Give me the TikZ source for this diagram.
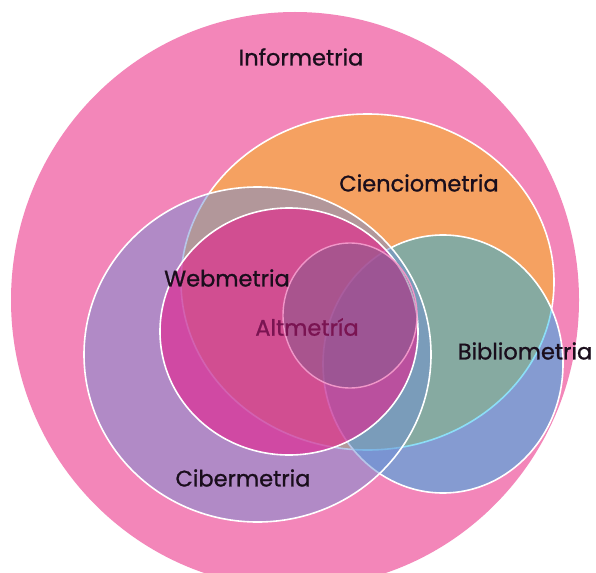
\documentclass[tikz,border=0pt]{standalone}
\usepackage{fontspec}
\setmainfont{Poppins}
\newfontfamily\labelfont{Poppins}[FakeBold=1.0]
\definecolor{infoPink}{RGB}{243,134,185}
\definecolor{cienOrange}{RGB}{245,161,97}
\definecolor{biblioBlue}{RGB}{0,182,239}
\definecolor{ciberViolet}{RGB}{112,143,212}
\definecolor{webMagenta}{RGB}{230,30,140}
\definecolor{altPlum}{RGB}{130,90,140}
\definecolor{altEdge}{RGB}{240,150,200}
\definecolor{labelInk}{RGB}{26,14,28}
\definecolor{altInk}{RGB}{122,20,82}
\begin{document}
\begin{tikzpicture}[x=1pt,y=-1pt,
  ring/.style={draw=white, line width=1.6pt},
  lbl/.style={font=\labelfont\fontsize{22.5}{22.5}\selectfont, text=labelInk, inner sep=0pt, anchor=center}]
\useasboundingbox (0,0) rectangle (596,572);
\fill[white] (0,0) rectangle (596,572);

% outer field: Informetria
\begin{scope}
  \clip (0,0) rectangle (596,572);
  \fill[infoPink] (295,300) ellipse [x radius=284pt, y radius=288pt];
\end{scope}

% Cienciometria
\filldraw[ring, fill=cienOrange] (367.5,282) ellipse [x radius=186.5pt, y radius=168pt];
% Bibliometria
\filldraw[ring, fill=biblioBlue, fill opacity=0.45] (443,364) ellipse [x radius=120pt, y radius=129pt];
% Cibermetria
\filldraw[ring, fill=ciberViolet, fill opacity=0.5] (257.5,354.5) ellipse [x radius=173.5pt, y radius=167.5pt];
% Webmetria
\filldraw[ring, fill=webMagenta, fill opacity=0.6] (289,331.5) ellipse [x radius=129pt, y radius=123.5pt];
% Altmetria
\filldraw[draw=altEdge, line width=1.4pt, fill=altPlum, fill opacity=0.5] (350,315.5) ellipse [x radius=67pt, y radius=72.5pt];

% labels
\node[lbl] (info)   at (301,57)  {Informetria};
\node[lbl] (cien)   at (419,183) {Cienciometria};
\node[lbl] (biblio) at (525,351) {Bibliometria};
\node[lbl] (web)    at (227,278) {Webmetria};
\node[lbl, text=altInk] (alt) at (307,327) {Altmetría};
\node[lbl] (ciber)  at (243,478) {Cibermetria};
\end{tikzpicture}
\end{document}
